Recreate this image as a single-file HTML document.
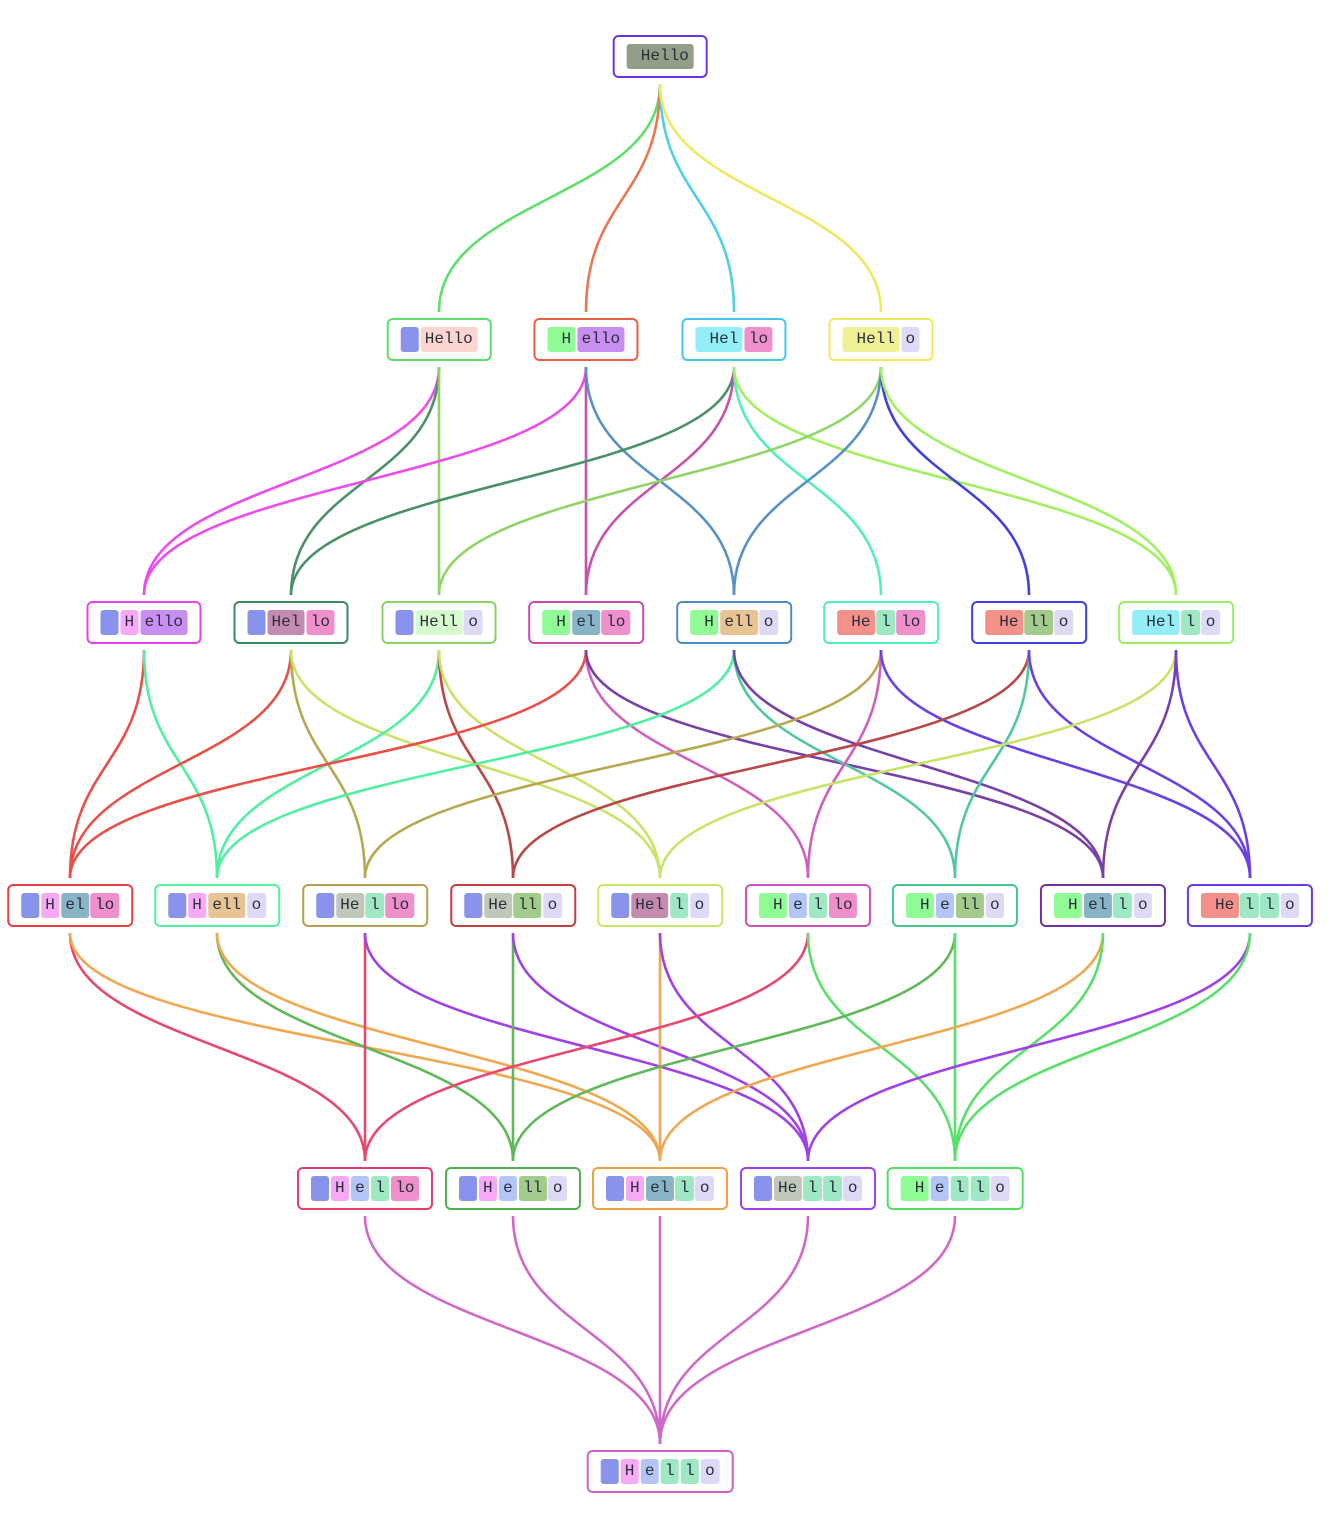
<!DOCTYPE html>
<html><head><meta charset="utf-8"><style>
html,body{margin:0;padding:0;background:#fff;}
body{width:1336px;height:1520px;position:relative;overflow:hidden;font-family:"Liberation Mono",monospace;font-size:16px;color:#2a2f3a;}
svg{position:absolute;left:0;top:0;}
.n{position:absolute;height:43px;box-sizing:border-box;border:2px solid #000;border-radius:6px;background:#fff;display:flex;align-items:center;gap:1.5px;padding:0 12px;transform:translateX(-50%);white-space:pre;}
.c{height:25px;line-height:25px;border-radius:3px;padding:0 4.5px;}
.b{width:18px;padding:0;background:#8a93ec;}
</style></head><body>
<svg width="1336" height="1520" fill="none" stroke-width="2.6">
<path d="M660 84C660 198 439 198 439 312" stroke="#5de06a"/>
<path d="M660 84C660 198 586 198 586 312" stroke="#e8784f"/>
<path d="M660 84C660 198 734 198 734 312" stroke="#4fcfe8"/>
<path d="M660 84C660 198 881 198 881 312" stroke="#f0e860"/>
<path d="M439 367C439 481 144 481 144 595" stroke="#ec4cec"/>
<path d="M439 367C439 481 291 481 291 595" stroke="#4a9068"/>
<path d="M439 367C439 481 439 481 439 595" stroke="#90d468"/>
<path d="M586 367C586 481 144 481 144 595" stroke="#ec4cec"/>
<path d="M586 367C586 481 586 481 586 595" stroke="#c850b0"/>
<path d="M586 367C586 481 734 481 734 595" stroke="#5890c8"/>
<path d="M734 367C734 481 291 481 291 595" stroke="#4a9068"/>
<path d="M734 367C734 481 586 481 586 595" stroke="#c850b0"/>
<path d="M734 367C734 481 881 481 881 595" stroke="#50f0b8"/>
<path d="M734 367C734 481 1176 481 1176 595" stroke="#a0f060"/>
<path d="M881 367C881 481 439 481 439 595" stroke="#90d468"/>
<path d="M881 367C881 481 734 481 734 595" stroke="#5890c8"/>
<path d="M881 367C881 481 1029 481 1029 595" stroke="#4040e0"/>
<path d="M881 367C881 481 1176 481 1176 595" stroke="#a0f060"/>
<path d="M144 650C144 764 70 764 70 878" stroke="#e85048"/>
<path d="M144 650C144 764 217 764 217 878" stroke="#50f0a0"/>
<path d="M291 650C291 764 70 764 70 878" stroke="#e85048"/>
<path d="M291 650C291 764 365 764 365 878" stroke="#b8a850"/>
<path d="M291 650C291 764 660 764 660 878" stroke="#c8e468"/>
<path d="M439 650C439 764 217 764 217 878" stroke="#50f0a0"/>
<path d="M439 650C439 764 513 764 513 878" stroke="#b84848"/>
<path d="M439 650C439 764 660 764 660 878" stroke="#c8e468"/>
<path d="M586 650C586 764 70 764 70 878" stroke="#e85048"/>
<path d="M586 650C586 764 808 764 808 878" stroke="#d060c0"/>
<path d="M586 650C586 764 1103 764 1103 878" stroke="#7840a8"/>
<path d="M734 650C734 764 217 764 217 878" stroke="#50f0a0"/>
<path d="M734 650C734 764 955 764 955 878" stroke="#50c8a0"/>
<path d="M734 650C734 764 1103 764 1103 878" stroke="#7840a8"/>
<path d="M881 650C881 764 365 764 365 878" stroke="#b8a850"/>
<path d="M881 650C881 764 808 764 808 878" stroke="#d060c0"/>
<path d="M881 650C881 764 1250 764 1250 878" stroke="#6a40e8"/>
<path d="M1029 650C1029 764 513 764 513 878" stroke="#b84848"/>
<path d="M1029 650C1029 764 955 764 955 878" stroke="#50c8a0"/>
<path d="M1029 650C1029 764 1250 764 1250 878" stroke="#6a40e8"/>
<path d="M1176 650C1176 764 660 764 660 878" stroke="#c8e468"/>
<path d="M1176 650C1176 764 1103 764 1103 878" stroke="#7840a8"/>
<path d="M1176 650C1176 764 1250 764 1250 878" stroke="#6a40e8"/>
<path d="M70 933C70 1047 365 1047 365 1161" stroke="#e84870"/>
<path d="M70 933C70 1047 660 1047 660 1161" stroke="#f0a850"/>
<path d="M217 933C217 1047 513 1047 513 1161" stroke="#60b858"/>
<path d="M217 933C217 1047 660 1047 660 1161" stroke="#f0a850"/>
<path d="M365 933C365 1047 365 1047 365 1161" stroke="#e84870"/>
<path d="M365 933C365 1047 808 1047 808 1161" stroke="#a040e8"/>
<path d="M513 933C513 1047 513 1047 513 1161" stroke="#60b858"/>
<path d="M513 933C513 1047 808 1047 808 1161" stroke="#a040e8"/>
<path d="M660 933C660 1047 660 1047 660 1161" stroke="#f0a850"/>
<path d="M660 933C660 1047 808 1047 808 1161" stroke="#a040e8"/>
<path d="M808 933C808 1047 365 1047 365 1161" stroke="#e84870"/>
<path d="M808 933C808 1047 955 1047 955 1161" stroke="#58e068"/>
<path d="M955 933C955 1047 513 1047 513 1161" stroke="#60b858"/>
<path d="M955 933C955 1047 955 1047 955 1161" stroke="#58e068"/>
<path d="M1103 933C1103 1047 660 1047 660 1161" stroke="#f0a850"/>
<path d="M1103 933C1103 1047 955 1047 955 1161" stroke="#58e068"/>
<path d="M1250 933C1250 1047 808 1047 808 1161" stroke="#a040e8"/>
<path d="M1250 933C1250 1047 955 1047 955 1161" stroke="#58e068"/>
<path d="M365 1216C365 1330 660 1330 660 1444" stroke="#d068c8"/>
<path d="M513 1216C513 1330 660 1330 660 1444" stroke="#d068c8"/>
<path d="M660 1216C660 1330 660 1330 660 1444" stroke="#d068c8"/>
<path d="M808 1216C808 1330 660 1330 660 1444" stroke="#d068c8"/>
<path d="M955 1216C955 1330 660 1330 660 1444" stroke="#d068c8"/>
</svg>

<div class="n" style="left:660px;top:35px;border-color:#6a35e0"><span class="c" style="background:#939e88"> Hello</span></div>
<div class="n" style="left:439px;top:318px;border-color:#5de06a"><span class="c b"></span><span class="c" style="background:#fdd5d0">Hello</span></div>
<div class="n" style="left:586px;top:318px;border-color:#e8603f"><span class="c" style="background:#8ffc96"> H</span><span class="c" style="background:#c98ef2">ello</span></div>
<div class="n" style="left:734px;top:318px;border-color:#45c6e8"><span class="c" style="background:#94eef8"> Hel</span><span class="c" style="background:#ef8fcc">lo</span></div>
<div class="n" style="left:881px;top:318px;border-color:#f2e85a"><span class="c" style="background:#f0f096"> Hell</span><span class="c" style="background:#dedaf6">o</span></div>
<div class="n" style="left:144px;top:601px;border-color:#ec40ec"><span class="c b"></span><span class="c" style="background:#f7a9f7">H</span><span class="c" style="background:#c98ef2">ello</span></div>
<div class="n" style="left:291px;top:601px;border-color:#3a8a60"><span class="c b"></span><span class="c" style="background:#c38bb0">Hel</span><span class="c" style="background:#ef8fcc">lo</span></div>
<div class="n" style="left:439px;top:601px;border-color:#86d464"><span class="c b"></span><span class="c" style="background:#d6fcd0">Hell</span><span class="c" style="background:#dedaf6">o</span></div>
<div class="n" style="left:586px;top:601px;border-color:#c84bb0"><span class="c" style="background:#8ffc96"> H</span><span class="c" style="background:#88b4c8">el</span><span class="c" style="background:#ef8fcc">lo</span></div>
<div class="n" style="left:734px;top:601px;border-color:#4f8ac8"><span class="c" style="background:#8ffc96"> H</span><span class="c" style="background:#e8c394">ell</span><span class="c" style="background:#dedaf6">o</span></div>
<div class="n" style="left:881px;top:601px;border-color:#4cf0b0"><span class="c" style="background:#f4908a"> He</span><span class="c" style="background:#9ee8c4">l</span><span class="c" style="background:#ef8fcc">lo</span></div>
<div class="n" style="left:1029px;top:601px;border-color:#3f3fe0"><span class="c" style="background:#f4908a"> He</span><span class="c" style="background:#a3cc8c">ll</span><span class="c" style="background:#dedaf6">o</span></div>
<div class="n" style="left:1176px;top:601px;border-color:#9af060"><span class="c" style="background:#94eef8"> Hel</span><span class="c" style="background:#9ee8c4">l</span><span class="c" style="background:#dedaf6">o</span></div>
<div class="n" style="left:70px;top:884px;border-color:#e84040"><span class="c b"></span><span class="c" style="background:#f7a9f7">H</span><span class="c" style="background:#88b4c8">el</span><span class="c" style="background:#ef8fcc">lo</span></div>
<div class="n" style="left:217px;top:884px;border-color:#50f0a0"><span class="c b"></span><span class="c" style="background:#f7a9f7">H</span><span class="c" style="background:#e8c394">ell</span><span class="c" style="background:#dedaf6">o</span></div>
<div class="n" style="left:365px;top:884px;border-color:#b8a050"><span class="c b"></span><span class="c" style="background:#c0c8bc">He</span><span class="c" style="background:#9ee8c4">l</span><span class="c" style="background:#ef8fcc">lo</span></div>
<div class="n" style="left:513px;top:884px;border-color:#c04040"><span class="c b"></span><span class="c" style="background:#c0c8bc">He</span><span class="c" style="background:#a3cc8c">ll</span><span class="c" style="background:#dedaf6">o</span></div>
<div class="n" style="left:660px;top:884px;border-color:#c8e860"><span class="c b"></span><span class="c" style="background:#c38bb0">Hel</span><span class="c" style="background:#9ee8c4">l</span><span class="c" style="background:#dedaf6">o</span></div>
<div class="n" style="left:808px;top:884px;border-color:#d050c0"><span class="c" style="background:#8ffc96"> H</span><span class="c" style="background:#b3c4f6">e</span><span class="c" style="background:#9ee8c4">l</span><span class="c" style="background:#ef8fcc">lo</span></div>
<div class="n" style="left:955px;top:884px;border-color:#40c890"><span class="c" style="background:#8ffc96"> H</span><span class="c" style="background:#b3c4f6">e</span><span class="c" style="background:#a3cc8c">ll</span><span class="c" style="background:#dedaf6">o</span></div>
<div class="n" style="left:1103px;top:884px;border-color:#7030a0"><span class="c" style="background:#8ffc96"> H</span><span class="c" style="background:#88b4c8">el</span><span class="c" style="background:#9ee8c4">l</span><span class="c" style="background:#dedaf6">o</span></div>
<div class="n" style="left:1250px;top:884px;border-color:#6a3ae8"><span class="c" style="background:#f4908a"> He</span><span class="c" style="background:#9ee8c4">l</span><span class="c" style="background:#9ee8c4">l</span><span class="c" style="background:#dedaf6">o</span></div>
<div class="n" style="left:365px;top:1167px;border-color:#e83c6c"><span class="c b"></span><span class="c" style="background:#f7a9f7">H</span><span class="c" style="background:#b3c4f6">e</span><span class="c" style="background:#9ee8c4">l</span><span class="c" style="background:#ef8fcc">lo</span></div>
<div class="n" style="left:513px;top:1167px;border-color:#50b050"><span class="c b"></span><span class="c" style="background:#f7a9f7">H</span><span class="c" style="background:#b3c4f6">e</span><span class="c" style="background:#a3cc8c">ll</span><span class="c" style="background:#dedaf6">o</span></div>
<div class="n" style="left:660px;top:1167px;border-color:#f0a040"><span class="c b"></span><span class="c" style="background:#f7a9f7">H</span><span class="c" style="background:#88b4c8">el</span><span class="c" style="background:#9ee8c4">l</span><span class="c" style="background:#dedaf6">o</span></div>
<div class="n" style="left:808px;top:1167px;border-color:#a040e8"><span class="c b"></span><span class="c" style="background:#c0c8bc">He</span><span class="c" style="background:#9ee8c4">l</span><span class="c" style="background:#9ee8c4">l</span><span class="c" style="background:#dedaf6">o</span></div>
<div class="n" style="left:955px;top:1167px;border-color:#50e060"><span class="c" style="background:#8ffc96"> H</span><span class="c" style="background:#b3c4f6">e</span><span class="c" style="background:#9ee8c4">l</span><span class="c" style="background:#9ee8c4">l</span><span class="c" style="background:#dedaf6">o</span></div>
<div class="n" style="left:660px;top:1450px;border-color:#d060c8"><span class="c b"></span><span class="c" style="background:#f7a9f7">H</span><span class="c" style="background:#b3c4f6">e</span><span class="c" style="background:#9ee8c4">l</span><span class="c" style="background:#9ee8c4">l</span><span class="c" style="background:#dedaf6">o</span></div>
</body></html>
